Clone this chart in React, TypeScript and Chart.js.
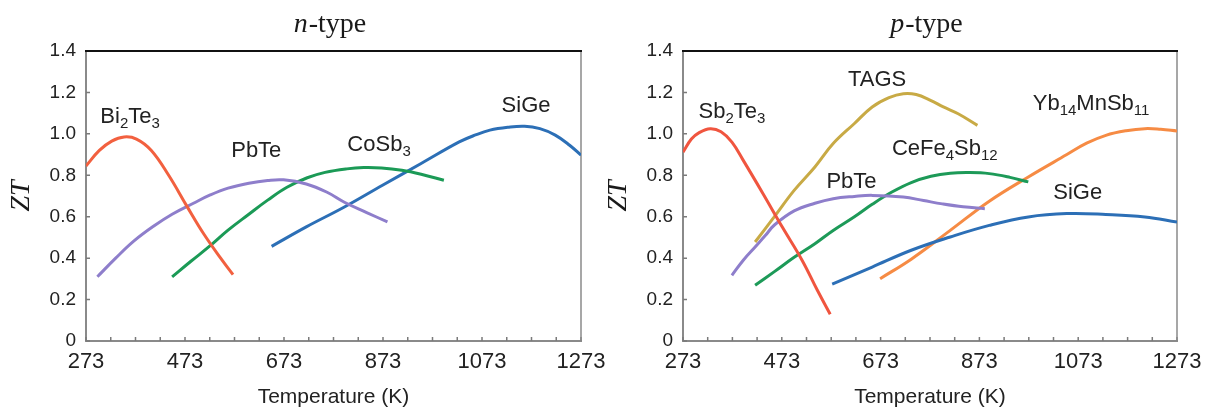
import React, { useEffect, useRef } from "react";
import { Chart, registerables } from "chart.js";
Chart.register(...registerables);

// ---------- axes ----------
const xMin = 273;
const xMax = 1273;
const yMin = 0;
const yMax = 1.4;
const xTickValues = [273, 473, 673, 873, 1073, 1273];
const xMinorTicks = [273, 323, 373, 423, 473, 523, 573, 623, 673, 723, 773, 823, 873, 923, 973, 1023, 1073, 1123, 1173, 1223, 1273];
const yTickValues = [0, 0.2, 0.4, 0.6, 0.8, 1.0, 1.2, 1.4];
const xAxisTitle = "Temperature (K)";
const yAxisTitle = "ZT";

// ---------- n-type ----------
const nBi2Te3T = [273, 300, 325, 350, 375, 405, 440, 477, 510, 545, 570];
const nBi2Te3ZT = [0.845, 0.92, 0.965, 0.985, 0.975, 0.92, 0.8, 0.65, 0.52, 0.4, 0.32];
const nPbTeT = [296, 333, 370, 410, 447, 490, 524, 560, 602, 640, 672, 718, 760, 795, 840, 882];
const nPbTeZT = [0.31, 0.4, 0.483, 0.555, 0.612, 0.665, 0.705, 0.738, 0.762, 0.775, 0.778, 0.758, 0.718, 0.67, 0.62, 0.575];
const nCoSb3T = [447, 485, 524, 560, 602, 640, 679, 720, 756, 800, 834, 870, 911, 950, 996];
const nCoSb3ZT = [0.31, 0.385, 0.46, 0.535, 0.612, 0.68, 0.742, 0.788, 0.814, 0.831, 0.837, 0.835, 0.824, 0.805, 0.776];
const nSiGeT = [648, 718, 795, 872, 950, 1027, 1060, 1089, 1125, 1159, 1190, 1221, 1250, 1273];
const nSiGeZT = [0.457, 0.551, 0.647, 0.752, 0.857, 0.961, 0.995, 1.018, 1.032, 1.037, 1.025, 0.994, 0.945, 0.897];

// ---------- p-type ----------
const pSb2Te3T = [273, 290, 305, 328, 350, 372, 395, 435, 474, 514, 545, 571];
const pSb2Te3ZT = [0.912, 0.975, 1.005, 1.025, 1.01, 0.96, 0.872, 0.711, 0.55, 0.39, 0.245, 0.129];
const pTAGST = [419, 458, 498, 540, 577, 620, 656, 690, 719, 745, 774, 800, 830, 869];
const pTAGSZT = [0.478, 0.6, 0.727, 0.84, 0.953, 1.05, 1.13, 1.175, 1.194, 1.19, 1.162, 1.13, 1.097, 1.041];
const pPbTeT = [372, 395, 419, 440, 458, 498, 540, 577, 620, 656, 719, 760, 798, 840, 884];
const pPbTeZT = [0.317, 0.39, 0.454, 0.51, 0.56, 0.628, 0.665, 0.687, 0.698, 0.703, 0.695, 0.678, 0.662, 0.648, 0.639];
const pCeFe4Sb12T = [419, 458, 498, 540, 577, 620, 656, 695, 735, 775, 814, 853, 893, 935, 972];
const pCeFe4Sb12ZT = [0.269, 0.335, 0.404, 0.47, 0.534, 0.6, 0.66, 0.718, 0.765, 0.795, 0.81, 0.813, 0.808, 0.79, 0.768];
const pSiGeT = [575, 656, 735, 814, 893, 972, 1050, 1129, 1208, 1273];
const pSiGeZT = [0.274, 0.357, 0.438, 0.502, 0.558, 0.599, 0.615, 0.611, 0.599, 0.574];
const pYbT = [672, 735, 814, 893, 972, 1050, 1090, 1129, 1170, 1208, 1240, 1273];
const pYbZT = [0.301, 0.395, 0.534, 0.675, 0.792, 0.9, 0.955, 0.993, 1.015, 1.025, 1.022, 1.014];

type Part = [string, number];
type Series = { name: string; color: string; T: number[]; ZT: number[] };
type Label = { parts: Part[]; T: number; ZT: number };
type PanelCfg = {
  italic: string;
  rest: string;
  areaLeft: number;
  areaRight: number;
  series: Series[];
  labels: Label[];
};

const nPanel: PanelCfg = {
  italic: "n",
  rest: "-type",
  areaLeft: 86,
  areaRight: 581,
  series: [
    { name: "Bi2Te3", color: "#f2603f", T: nBi2Te3T, ZT: nBi2Te3ZT },
    { name: "PbTe", color: "#8e7ecb", T: nPbTeT, ZT: nPbTeZT },
    { name: "CoSb3", color: "#1b9a56", T: nCoSb3T, ZT: nCoSb3ZT },
    { name: "SiGe", color: "#2c6fb6", T: nSiGeT, ZT: nSiGeZT },
  ],
  labels: [
    { parts: [["Bi", 0], ["2", 1], ["Te", 0], ["3", 1]], T: 362, ZT: 1.09 },
    { parts: [["PbTe", 0]], T: 617, ZT: 0.925 },
    { parts: [["CoSb", 0], ["3", 1]], T: 865, ZT: 0.955 },
    { parts: [["SiGe", 0]], T: 1162, ZT: 1.145 },
  ],
};

const pPanel: PanelCfg = {
  italic: "p",
  rest: "-type",
  areaLeft: 83,
  areaRight: 577,
  series: [
    { name: "Sb2Te3", color: "#f0553f", T: pSb2Te3T, ZT: pSb2Te3ZT },
    { name: "TAGS", color: "#c8aa45", T: pTAGST, ZT: pTAGSZT },
    { name: "PbTe", color: "#8e7ecb", T: pPbTeT, ZT: pPbTeZT },
    { name: "CeFe4Sb12", color: "#1d9a58", T: pCeFe4Sb12T, ZT: pCeFe4Sb12ZT },
    { name: "SiGe", color: "#2c6fb6", T: pSiGeT, ZT: pSiGeZT },
    { name: "Yb14MnSb11", color: "#f68b44", T: pYbT, ZT: pYbZT },
  ],
  labels: [
    { parts: [["Sb", 0], ["2", 1], ["Te", 0], ["3", 1]], T: 372, ZT: 1.115 },
    { parts: [["TAGS", 0]], T: 666, ZT: 1.27 },
    { parts: [["PbTe", 0]], T: 614, ZT: 0.775 },
    { parts: [["CeFe", 0], ["4", 1], ["Sb", 0], ["12", 1]], T: 803, ZT: 0.935 },
    { parts: [["Yb", 0], ["14", 1], ["MnSb", 0], ["11", 1]], T: 1099, ZT: 1.155 },
    { parts: [["SiGe", 0]], T: 1072, ZT: 0.725 },
  ],
};

const SANS = "'Liberation Sans', Arial, sans-serif";
const SERIF = "'Liberation Serif', 'Times New Roman', serif";
const H = 409;
const AREA_TOP = 51;
const AREA_BOTTOM = 341;

function decorPlugin(cfg: PanelCfg) {
  return {
    id: "decor",
    beforeDatasetsDraw(chart: any) {
      const { ctx, chartArea } = chart;
      const xs = chart.scales.x;
      const ys = chart.scales.y;
      ctx.save();
      ctx.strokeStyle = "#7a7a7a";
      ctx.lineWidth = 1.5;
      ctx.beginPath();
      xMinorTicks.forEach((v) => {
        const px = xs.getPixelForValue(v);
        ctx.moveTo(px, chartArea.bottom);
        ctx.lineTo(px, chartArea.bottom - 4);
      });
      yTickValues.forEach((v) => {
        const py = ys.getPixelForValue(v);
        ctx.moveTo(chartArea.left, py);
        ctx.lineTo(chartArea.left + 4, py);
      });
      ctx.stroke();
      ctx.strokeStyle = "#8a8a8a";
      ctx.lineWidth = 1.5;
      ctx.beginPath();
      ctx.moveTo(chartArea.right, chartArea.top);
      ctx.lineTo(chartArea.right, chartArea.bottom);
      ctx.stroke();
      ctx.strokeStyle = "#111";
      ctx.lineWidth = 2;
      ctx.beginPath();
      ctx.moveTo(chartArea.left - 1, chartArea.top);
      ctx.lineTo(chartArea.right + 1, chartArea.top);
      ctx.stroke();
      ctx.restore();
    },
    afterDraw(chart: any) {
      const { ctx, chartArea } = chart;
      const xs = chart.scales.x;
      const ys = chart.scales.y;
      ctx.save();
      ctx.fillStyle = "#1a1a1a";
      const fItal = `italic 28px ${SERIF}`;
      const fReg = `28px ${SERIF}`;
      ctx.font = fItal;
      const w1 = ctx.measureText(cfg.italic).width;
      ctx.font = fReg;
      const w2 = ctx.measureText(cfg.rest).width;
      const cx = (chartArea.left + chartArea.right) / 2 - 4;
      const tx = cx - (w1 + w2) / 2;
      ctx.textBaseline = "alphabetic";
      ctx.textAlign = "left";
      ctx.font = fItal;
      ctx.fillText(cfg.italic, tx, 32);
      ctx.font = fReg;
      ctx.fillText(cfg.rest, tx + w1 + 1, 32);
      ctx.font = `21px ${SANS}`;
      ctx.textAlign = "center";
      ctx.textBaseline = "middle";
      ctx.fillStyle = "#222";
      ctx.fillText(xAxisTitle, (chartArea.left + chartArea.right) / 2, 397);
      ctx.save();
      ctx.translate(chartArea.left - 64, (chartArea.top + chartArea.bottom) / 2);
      ctx.rotate(-Math.PI / 2);
      ctx.font = `italic 28px ${SERIF}`;
      ctx.fillStyle = "#1a1a1a";
      ctx.fillText(yAxisTitle, 0, 0);
      ctx.restore();
      ctx.fillStyle = "#222";
      ctx.textAlign = "left";
      ctx.textBaseline = "alphabetic";
      cfg.labels.forEach((lb) => {
        let total = 0;
        lb.parts.forEach(([t, sub]) => {
          ctx.font = sub ? `15px ${SANS}` : `22px ${SANS}`;
          total += ctx.measureText(t).width;
        });
        const lx = xs.getPixelForValue(lb.T);
        const ly = ys.getPixelForValue(lb.ZT);
        let x = lx - total / 2;
        const base = ly + 8;
        lb.parts.forEach(([t, sub]) => {
          ctx.font = sub ? `15px ${SANS}` : `22px ${SANS}`;
          ctx.fillText(t, x, sub ? base + 5 : base);
          x += ctx.measureText(t).width;
        });
      });
      ctx.restore();
    },
  };
}

function Panel({ cfg, left, width }: { cfg: PanelCfg; left: number; width: number }) {
  const ref = useRef<HTMLCanvasElement>(null);
  useEffect(() => {
    if (!ref.current) return;
    const chart = new Chart(ref.current, {
      type: "line",
      data: {
        datasets: cfg.series.map((s) => ({
          label: s.name,
          data: s.T.map((t, i) => ({ x: t, y: s.ZT[i] })),
          borderColor: s.color,
          backgroundColor: s.color,
          borderWidth: 3,
          pointRadius: 0,
          tension: 0.4,
          fill: false,
        })),
      },
      options: {
        responsive: false,
        animation: false,
        layout: { padding: { left: 0, top: AREA_TOP, right: width - cfg.areaRight, bottom: 0 } },
        plugins: { legend: { display: false }, tooltip: { enabled: false }, title: { display: false } },
        scales: {
          x: {
            type: "linear",
            min: xMin,
            max: xMax,
            afterBuildTicks: (s: any) => {
              s.ticks = xTickValues.map((v) => ({ value: v }));
            },
            afterFit: (s: any) => {
              s.height = H - AREA_BOTTOM;
              s.paddingLeft = 0;
              s.paddingRight = 0;
            },
            grid: { display: false, drawTicks: false },
            border: { display: true, color: "#8a8a8a", width: 2 },
            ticks: {
              font: { family: SANS, size: 22 },
              color: "#222",
              padding: 8,
              maxRotation: 0,
              minRotation: 0,
              autoSkip: false,
              callback: (v: any) => String(v),
            },
          },
          y: {
            type: "linear",
            min: yMin,
            max: yMax,
            afterBuildTicks: (s: any) => {
              s.ticks = yTickValues.map((v) => ({ value: v }));
            },
            afterFit: (s: any) => {
              s.width = cfg.areaLeft;
              s.paddingTop = 0;
              s.paddingBottom = 0;
            },
            grid: { display: false, drawTicks: false },
            border: { display: true, color: "#8a8a8a", width: 2 },
            ticks: {
              font: { family: SANS, size: 19 },
              color: "#222",
              padding: 10,
              autoSkip: false,
              callback: (v: any) => (Number(v) === 0 ? "0" : Number(v).toFixed(1)),
            },
          },
        },
      },
      plugins: [decorPlugin(cfg)],
    } as any);
    return () => chart.destroy();
  }, [cfg, width]);
  return (
    <canvas
      ref={ref}
      width={width}
      height={H}
      style={{ position: "absolute", left, top: 0, width, height: H }}
    />
  );
}

export default function App() {
  return (
    <div style={{ position: "fixed", left: 0, top: 0, width: 1211, height: H, background: "#fff", overflow: "hidden" }}>
      <Panel cfg={nPanel} left={0} width={620} />
      <Panel cfg={pPanel} left={600} width={611} />
    </div>
  );
}
